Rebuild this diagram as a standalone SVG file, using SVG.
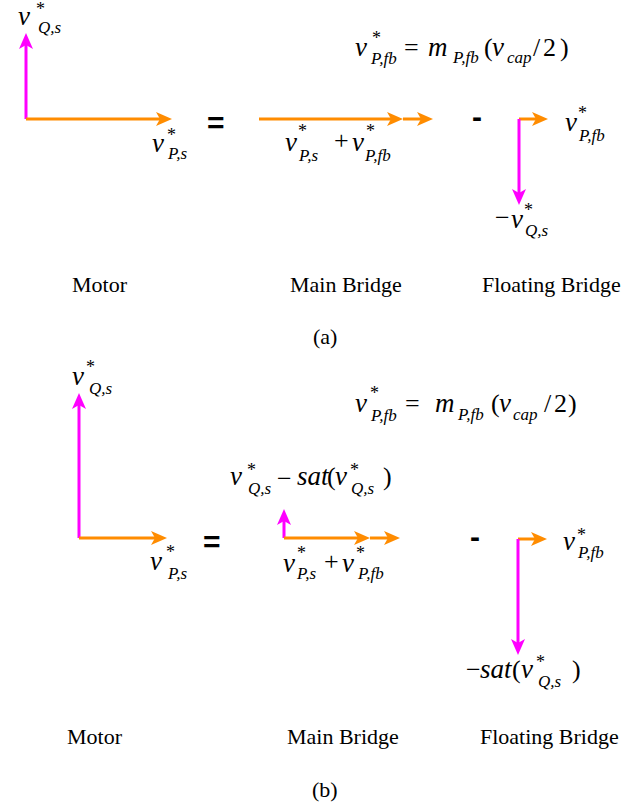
<svg xmlns="http://www.w3.org/2000/svg" width="642" height="806" viewBox="0 0 642 806">
<style>
.m{font-family:"Liberation Serif","Times New Roman",serif;font-style:italic;font-size:27px;fill:#000}
.u{font-family:"Liberation Serif","Times New Roman",serif;font-size:26px;fill:#000}
.sub{font-family:"Liberation Serif","Times New Roman",serif;font-style:italic;font-size:17px;fill:#000}
.st{font-family:"Liberation Serif","Times New Roman",serif;font-size:18px;fill:#000}
.lab{font-family:"Liberation Serif","Times New Roman",serif;font-size:22px;fill:#000}
.op{font-family:"Liberation Sans",Arial,sans-serif;font-weight:bold;font-size:30px;fill:#000}
.or{stroke:#FF8C00;stroke-width:3;fill:none;marker-end:url(#ao)}
.mg{stroke:#FF00FF;stroke-width:3;fill:none;marker-end:url(#am)}
</style>
<defs>
<marker id="ao" viewBox="0 0 16 14" markerWidth="16" markerHeight="14" markerUnits="userSpaceOnUse" refX="8" refY="7" orient="auto"><path d="M0,0 L16,7 L0,14 L4,7 Z" fill="#FF8C00"/></marker>
<marker id="am" viewBox="0 0 16 14" markerWidth="16" markerHeight="14" markerUnits="userSpaceOnUse" refX="8" refY="7" orient="auto"><path d="M0,0 L16,7 L0,14 L4,7 Z" fill="#FF00FF"/></marker>
</defs>
<g id="connectors">
<line class="mg" x1="26" y1="119" x2="26" y2="41"/>
<line class="or" x1="26" y1="119" x2="164" y2="119"/>
<line class="or" x1="259" y1="119" x2="395" y2="119"/>
<line class="or" x1="403" y1="119" x2="425" y2="119"/>
<line class="or" x1="519" y1="119" x2="540" y2="119"/>
<line class="mg" x1="519" y1="119" x2="519" y2="197"/>
<line class="mg" x1="79" y1="538" x2="79" y2="401"/>
<line class="or" x1="79" y1="538" x2="159" y2="538"/>
<line class="mg" x1="284" y1="538" x2="284" y2="517"/>
<line class="or" x1="284" y1="538" x2="362" y2="538"/>
<line class="or" x1="370" y1="538" x2="392" y2="538"/>
<line class="or" x1="518" y1="539" x2="539" y2="539"/>
<line class="mg" x1="518" y1="539" x2="518" y2="647"/>
</g>
<g id="panel-a">
<g id="a-motor">
<text class="m" x="18" y="25">v</text><text class="st" x="36" y="15">*</text><text class="sub" x="38" y="33">Q,s</text>
<text class="m" x="152" y="152">v</text><text class="st" x="167" y="141">*</text><text class="sub" x="168" y="159">P,s</text>
<text class="lab" x="72" y="292">Motor</text>
</g>
<text class="op" x="207" y="133">=</text>
<g id="a-main">
<text class="m" x="285" y="151">v</text><text class="st" x="298" y="137">*</text><text class="sub" x="299" y="161">P,s</text>
<text class="u" x="334" y="149">+</text>
<text class="m" x="352" y="151">v</text><text class="st" x="366" y="137">*</text><text class="sub" x="365" y="161">P,fb</text>
<text class="lab" x="290" y="292">Main Bridge</text>
</g>
<text class="op" x="472" y="127">-</text>
<g id="a-floating">
<text class="m" x="565" y="131">v</text><text class="st" x="578" y="119">*</text><text class="sub" x="579" y="141">P,fb</text>
<text class="u" x="495" y="226">−</text><text class="m" x="511" y="228">v</text><text class="st" x="524" y="216">*</text><text class="sub" x="525" y="236">Q,s</text>
<text class="lab" x="482" y="292">Floating Bridge</text>
</g>
<g id="a-eq">
<text class="m" x="355" y="56">v</text><text class="st" x="372" y="44">*</text><text class="sub" x="371" y="64">P,fb</text>
<text class="u" x="404" y="56">=</text>
<text class="m" x="428" y="56">m</text><text class="sub" x="453" y="63">P,fb</text>
<text class="u" x="484" y="56">(</text><text class="m" x="492" y="56">v</text><text class="sub" x="507" y="63">cap</text>
<text class="u" x="533" y="56">/</text><text class="u" x="543" y="56">2</text><text class="u" x="560" y="56">)</text>
</g>
<text class="lab" x="313" y="344">(a)</text>
</g>
<g id="panel-b">
<g id="b-motor">
<text class="m" x="72" y="385">v</text><text class="st" x="86" y="373">*</text><text class="sub" x="89" y="394">Q,s</text>
<text class="m" x="150" y="570">v</text><text class="st" x="166" y="558">*</text><text class="sub" x="168" y="579">P,s</text>
<text class="lab" x="67" y="744">Motor</text>
</g>
<text class="op" x="203" y="552">=</text>
<g id="b-main">
<text class="m" x="230" y="485">v</text><text class="st" x="247" y="476">*</text><text class="sub" x="248" y="494">Q,s</text>
<text class="u" x="277" y="487">−</text>
<text class="m" x="297" y="485">sat</text><text class="u" x="327" y="485">(</text><text class="m" x="335" y="485">v</text><text class="st" x="350" y="476">*</text><text class="sub" x="351" y="494">Q,s</text><text class="u" x="383" y="485">)</text>
<text class="m" x="283" y="572">v</text><text class="st" x="297" y="559">*</text><text class="sub" x="297" y="579">P,s</text>
<text class="u" x="324" y="570">+</text>
<text class="m" x="342" y="572">v</text><text class="st" x="356" y="559">*</text><text class="sub" x="358" y="579">P,fb</text>
<text class="lab" x="287" y="744">Main Bridge</text>
</g>
<text class="op" x="470" y="547">-</text>
<g id="b-floating">
<text class="m" x="563" y="550">v</text><text class="st" x="577" y="541">*</text><text class="sub" x="578" y="558">P,fb</text>
<text class="u" x="466" y="678">−</text><text class="m" x="480" y="678">sat</text><text class="u" x="512" y="678">(</text><text class="m" x="521" y="678">v</text><text class="st" x="536" y="668">*</text><text class="sub" x="538" y="687">Q,s</text><text class="u" x="572" y="678">)</text>
<text class="lab" x="480" y="744">Floating Bridge</text>
</g>
<g id="b-eq">
<text class="m" x="355" y="412">v</text><text class="st" x="370" y="399">*</text><text class="sub" x="371" y="421">P,fb</text>
<text class="u" x="405" y="412">=</text>
<text class="m" x="435" y="412">m</text><text class="sub" x="458" y="420">P,fb</text>
<text class="u" x="491" y="412">(</text><text class="m" x="499" y="412">v</text><text class="sub" x="513" y="420">cap</text>
<text class="u" x="544" y="412">/</text><text class="u" x="554" y="412">2</text><text class="u" x="568" y="412">)</text>
</g>
<text class="lab" x="312" y="797">(b)</text>
</g>
</svg>
